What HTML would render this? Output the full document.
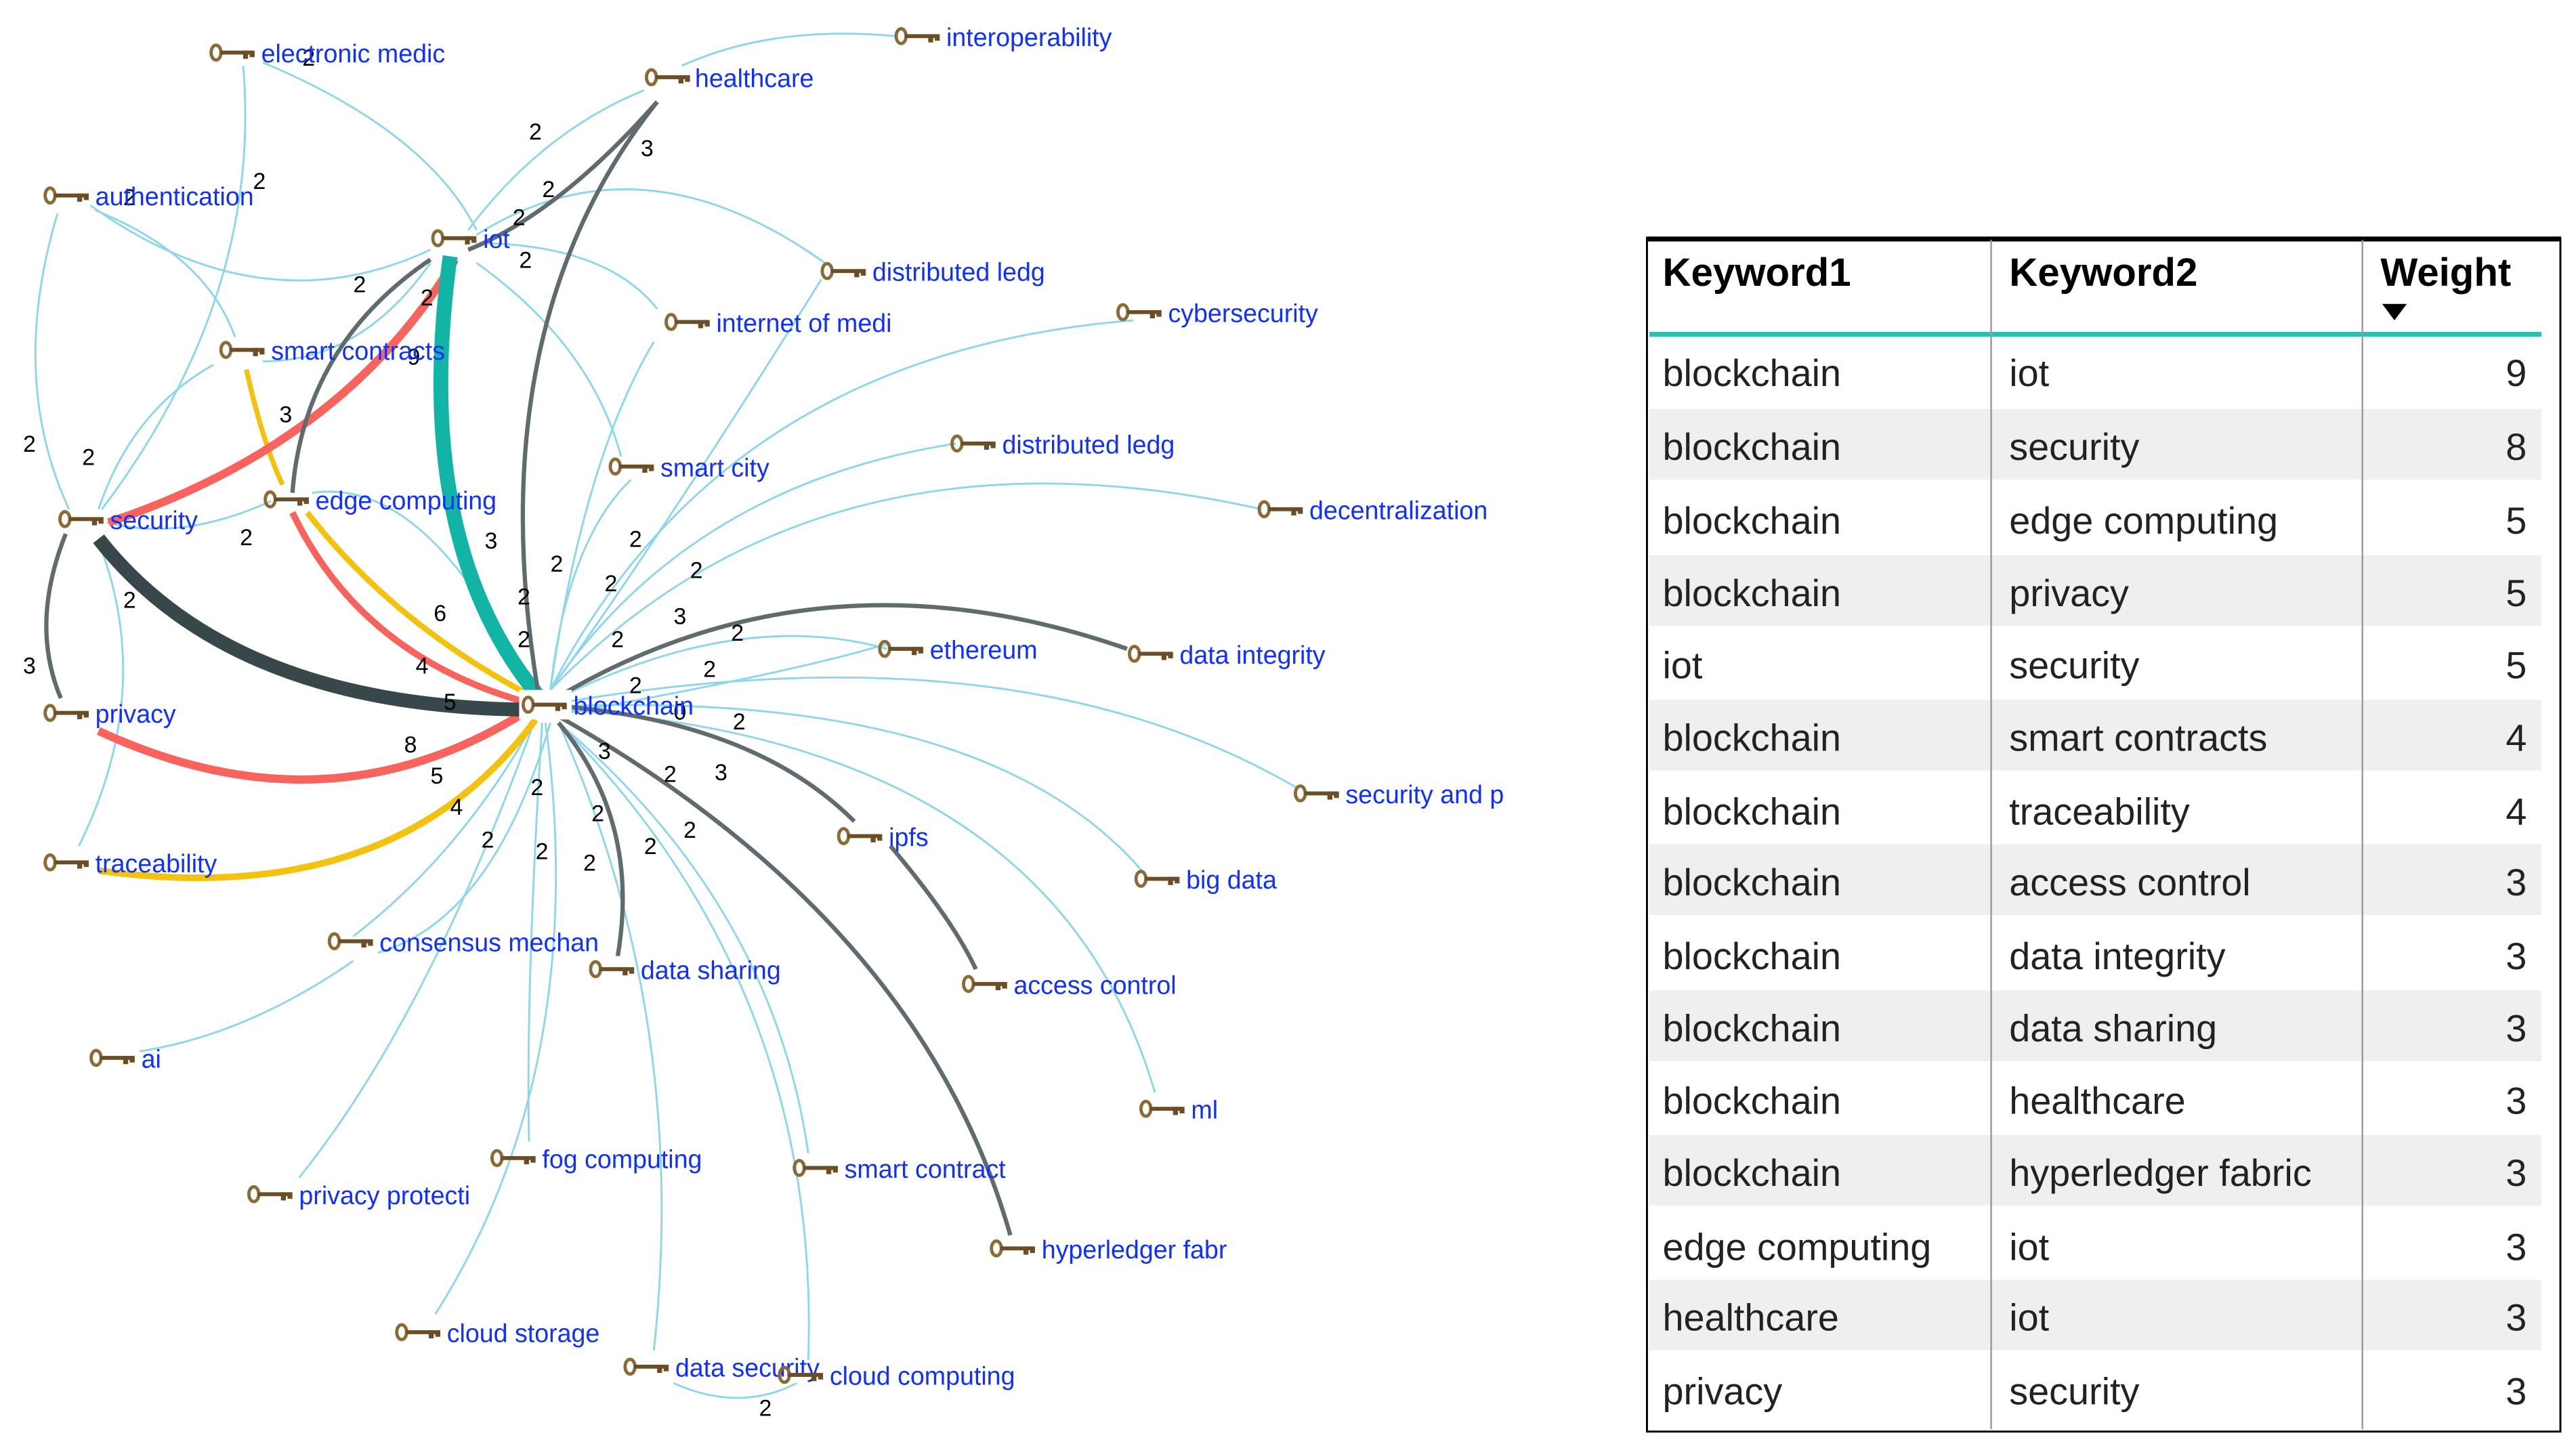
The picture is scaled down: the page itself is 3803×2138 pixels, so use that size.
<!DOCTYPE html>
<html><head><meta charset="utf-8"><style>
html,body{margin:0;padding:0;background:#fff;width:3803px;height:2138px;overflow:hidden}
svg{display:block}
.n{font-family:"Liberation Sans",sans-serif;font-size:15.5px;fill:#1030ff}
.l{font-family:"Liberation Sans",sans-serif;font-size:14px;fill:#000}
.t{font-family:"Liberation Sans",sans-serif;font-size:23px;fill:#222}
.h{font-family:"Liberation Sans",sans-serif;font-size:24px;font-weight:bold;fill:#000}
.b{fill:none;stroke:#8ed6ea;stroke-width:1.2}
.g{fill:none;stroke:#5f6b6e;stroke-width:2.6}
</style></head><body>
<svg width="3803" height="2138" viewBox="0 0 1568 881.5" xmlns="http://www.w3.org/2000/svg">
<defs>
<g id="k"><ellipse cx="3.5" cy="0" rx="3" ry="4.5" fill="none" stroke="#8a6a35" stroke-width="2"/><rect x="6" y="-1.2" width="19" height="2.4" fill="#6b4e25"/><rect x="20" y="-1.2" width="3" height="5" fill="#6b4e25"/><rect x="24" y="-1.2" width="3" height="4" fill="#6b4e25"/></g>
</defs>
<path class="b" d="M160 38 Q260 80 290 140"/>
<path class="b" d="M148 40 Q160 180 62 310"/>
<path class="b" d="M55 125 Q160 200 262 152"/>
<path class="b" d="M58 128 Q125 155 143 205"/>
<path class="b" d="M35 130 Q5 230 42 310"/>
<path class="b" d="M285 140 Q330 80 392 55"/>
<path class="b" d="M415 40 Q470 15 545 22"/>
<path class="b" d="M290 143 Q390 80 502 160"/>
<path class="b" d="M295 148 Q370 150 400 188"/>
<path class="b" d="M290 160 Q360 210 378 278"/>
<path class="b" d="M262 160 Q220 220 160 220"/>
<path class="b" d="M130 222 Q80 250 60 310"/>
<path class="b" d="M165 305 Q110 330 65 318"/>
<path class="b" d="M48 515 Q95 420 60 330"/>
<path class="b" d="M335 420 Q440 215 690 195"/>
<path class="b" d="M335 420 Q355 280 398 208"/>
<path class="b" d="M335 420 Q345 330 384 292"/>
<path class="b" d="M335 420 Q420 295 582 270"/>
<path class="b" d="M335 420 Q500 250 768 310"/>
<path class="b" d="M335 420 Q400 330 500 170"/>
<path class="b" d="M340 425 Q450 370 540 395"/>
<path class="b" d="M340 428 Q620 380 790 480"/>
<path class="b" d="M340 430 Q600 420 695 530"/>
<path class="b" d="M340 432 Q640 450 703 665"/>
<path class="b" d="M340 435 Q480 410 540 392"/>
<path class="b" d="M325 440 Q280 520 215 570"/>
<path class="b" d="M215 585 Q150 630 85 640"/>
<path class="b" d="M325 440 Q260 620 182 717"/>
<path class="b" d="M330 440 Q320 600 322 695"/>
<path class="b" d="M332 440 Q360 650 265 800"/>
<path class="b" d="M340 440 Q470 550 492 702"/>
<path class="b" d="M340 440 Q420 620 398 822"/>
<path class="b" d="M340 440 Q500 600 492 828"/>
<path class="b" d="M410 842 Q450 860 485 842"/>
<path class="b" d="M190 300 Q260 290 322 418"/>
<path class="b" d="M335 440 Q300 560 230 580"/>
<path d="M60 445 Q200 510 322 432" fill="none" stroke="#f9635e" stroke-width="5"/>
<path d="M60 530 Q240 555 326 438" fill="none" stroke="#f2c20f" stroke-width="4"/>
<path d="M178 312 Q220 400 322 428" fill="none" stroke="#f9635e" stroke-width="4"/>
<path d="M187 312 Q240 380 324 424" fill="none" stroke="#f2c20f" stroke-width="3.5"/>
<path d="M150 225 Q160 270 172 295" fill="none" stroke="#f2c20f" stroke-width="3"/>
<path d="M277 158 Q210 270 66 318" fill="none" stroke="#f9635e" stroke-width="5"/>
<path d="M60 328 Q140 430 320 432" fill="none" stroke="#37474a" stroke-width="8.5"/>
<path d="M274 156 Q250 330 328 424" fill="none" stroke="#12b5a5" stroke-width="9"/>
<path class="g" d="M328 424 Q290 200 400 62"/>
<path class="g" d="M400 62 Q340 130 285 152"/>
<path class="g" d="M262 158 Q185 210 178 300"/>
<path class="g" d="M340 424 Q500 330 686 395"/>
<path class="g" d="M342 430 Q460 440 520 500"/>
<path class="g" d="M542 515 Q580 560 594 590"/>
<path class="g" d="M338 435 Q560 560 615 752"/>
<path class="g" d="M340 440 Q390 500 376 582"/>
<path class="g" d="M40 325 Q18 380 37 425"/>
<g class="l">
<text x="184" y="40">2</text><text x="154" y="115">2</text><text x="75" y="125">2</text>
<text x="322" y="85">2</text><text x="390" y="95">3</text><text x="330" y="120">2</text><text x="312" y="137">2</text>
<text x="316" y="163">2</text><text x="215" y="178">2</text><text x="256" y="186">2</text><text x="248" y="222">9</text>
<text x="14" y="275">2</text><text x="50" y="283">2</text><text x="170" y="257">3</text><text x="146" y="332">2</text>
<text x="295" y="334">3</text><text x="335" y="348">2</text><text x="383" y="333">2</text><text x="420" y="352">2</text>
<text x="315" y="368">2</text><text x="368" y="360">2</text><text x="410" y="380">3</text><text x="445" y="390">2</text>
<text x="315" y="394">2</text><text x="372" y="394">2</text><text x="428" y="412">2</text><text x="383" y="422">2</text>
<text x="75" y="370">2</text><text x="14" y="410">3</text><text x="264" y="378">6</text><text x="253" y="410">4</text>
<text x="270" y="432">5</text><text x="246" y="458">8</text><text x="262" y="477">5</text><text x="274" y="496">4</text>
<text x="410" y="438">0</text><text x="446" y="444">2</text><text x="364" y="462">3</text><text x="404" y="476">2</text>
<text x="435" y="475">3</text><text x="323" y="484">2</text><text x="360" y="500">2</text><text x="416" y="510">2</text>
<text x="293" y="516">2</text><text x="326" y="523">2</text><text x="355" y="530">2</text><text x="392" y="520">2</text>
<text x="462" y="862">2</text>
</g>
<g class="n">
<use href="#k" x="128" y="32"/><text x="159" y="38">electronic medic</text>
<use href="#k" x="545" y="22"/><text x="576" y="28">interoperability</text>
<use href="#k" x="393" y="47"/><text x="423" y="53">healthcare</text>
<use href="#k" x="27" y="119"/><text x="58" y="125">authentication</text>
<use href="#k" x="263" y="145"/><text x="294" y="151">iot</text>
<use href="#k" x="500" y="165"/><text x="531" y="171">distributed ledg</text>
<use href="#k" x="680" y="190"/><text x="711" y="196">cybersecurity</text>
<use href="#k" x="405" y="196"/><text x="436" y="202">internet of medi</text>
<use href="#k" x="134" y="213"/><text x="165" y="219">smart contracts</text>
<use href="#k" x="371" y="284"/><text x="402" y="290">smart city</text>
<use href="#k" x="579" y="270"/><text x="610" y="276">distributed ledg</text>
<use href="#k" x="766" y="310"/><text x="797" y="316">decentralization</text>
<use href="#k" x="161" y="304"/><text x="192" y="310">edge computing</text>
<use href="#k" x="36" y="316"/><text x="67" y="322">security</text>
<use href="#k" x="535" y="395"/><text x="566" y="401">ethereum</text>
<use href="#k" x="687" y="398"/><text x="718" y="404">data integrity</text>
<use href="#k" x="27" y="434"/><text x="58" y="440">privacy</text>
<rect x="316" y="420" width="32" height="18" fill="#fff"/>
<use href="#k" x="318" y="429"/><text x="349" y="435">blockchain</text>
<use href="#k" x="788" y="483"/><text x="819" y="489">security and p</text>
<use href="#k" x="27" y="525"/><text x="58" y="531">traceability</text>
<use href="#k" x="510" y="509"/><text x="541" y="515">ipfs</text>
<use href="#k" x="691" y="535"/><text x="722" y="541">big data</text>
<use href="#k" x="200" y="573"/><text x="231" y="579">consensus mechan</text>
<use href="#k" x="359" y="590"/><text x="390" y="596">data sharing</text>
<use href="#k" x="586" y="599"/><text x="617" y="605">access control</text>
<use href="#k" x="55" y="644"/><text x="86" y="650">ai</text>
<use href="#k" x="694" y="675"/><text x="725" y="681">ml</text>
<use href="#k" x="299" y="705"/><text x="330" y="711">fog computing</text>
<use href="#k" x="483" y="711"/><text x="514" y="717">smart contract</text>
<use href="#k" x="151" y="727"/><text x="182" y="733">privacy protecti</text>
<use href="#k" x="603" y="760"/><text x="634" y="766">hyperledger fabr</text>
<use href="#k" x="241" y="811"/><text x="272" y="817">cloud storage</text>
<use href="#k" x="380" y="832"/><text x="411" y="838">data security</text>
<use href="#k" x="474" y="837"/><text x="505" y="843">cloud computing</text>
</g>
<g>
<rect x="1002.5" y="145.5" width="556" height="726" fill="#fff" stroke="#000" stroke-width="1.2"/>
<rect x="1002" y="144" width="557" height="3" fill="#000"/>
<g fill="#efefef">
<rect x="1004" y="249" width="543" height="43"/>
<rect x="1004" y="338" width="543" height="43"/>
<rect x="1004" y="426" width="543" height="43"/>
<rect x="1004" y="514" width="543" height="43"/>
<rect x="1004" y="603" width="543" height="43"/>
<rect x="1004" y="691" width="543" height="43"/>
<rect x="1004" y="779" width="543" height="43"/>
</g>
<rect x="1004" y="202" width="543" height="3" fill="#2bbfb0"/>
<line x1="1212" y1="146" x2="1212" y2="870" stroke="#999" stroke-width="1"/>
<line x1="1438" y1="146" x2="1438" y2="870" stroke="#999" stroke-width="1"/>
<text class="h" x="1012" y="174">Keyword1</text>
<text class="h" x="1223" y="174">Keyword2</text>
<text class="h" x="1449" y="174">Weight</text>
<path d="M1450 185 L1465 185 L1457.5 195 Z" fill="#000"/>
<g class="t">
<text x="1012" y="235">blockchain</text><text x="1223" y="235">iot</text><text x="1538" y="235" text-anchor="end">9</text>
<text x="1012" y="280">blockchain</text><text x="1223" y="280">security</text><text x="1538" y="280" text-anchor="end">8</text>
<text x="1012" y="325">blockchain</text><text x="1223" y="325">edge computing</text><text x="1538" y="325" text-anchor="end">5</text>
<text x="1012" y="369">blockchain</text><text x="1223" y="369">privacy</text><text x="1538" y="369" text-anchor="end">5</text>
<text x="1012" y="413">iot</text><text x="1223" y="413">security</text><text x="1538" y="413" text-anchor="end">5</text>
<text x="1012" y="457">blockchain</text><text x="1223" y="457">smart contracts</text><text x="1538" y="457" text-anchor="end">4</text>
<text x="1012" y="502">blockchain</text><text x="1223" y="502">traceability</text><text x="1538" y="502" text-anchor="end">4</text>
<text x="1012" y="545">blockchain</text><text x="1223" y="545">access control</text><text x="1538" y="545" text-anchor="end">3</text>
<text x="1012" y="590">blockchain</text><text x="1223" y="590">data integrity</text><text x="1538" y="590" text-anchor="end">3</text>
<text x="1012" y="634">blockchain</text><text x="1223" y="634">data sharing</text><text x="1538" y="634" text-anchor="end">3</text>
<text x="1012" y="678">blockchain</text><text x="1223" y="678">healthcare</text><text x="1538" y="678" text-anchor="end">3</text>
<text x="1012" y="722">blockchain</text><text x="1223" y="722">hyperledger fabric</text><text x="1538" y="722" text-anchor="end">3</text>
<text x="1012" y="767">edge computing</text><text x="1223" y="767">iot</text><text x="1538" y="767" text-anchor="end">3</text>
<text x="1012" y="810">healthcare</text><text x="1223" y="810">iot</text><text x="1538" y="810" text-anchor="end">3</text>
<text x="1012" y="855">privacy</text><text x="1223" y="855">security</text><text x="1538" y="855" text-anchor="end">3</text>
</g>
</g>
</svg>
</body></html>
